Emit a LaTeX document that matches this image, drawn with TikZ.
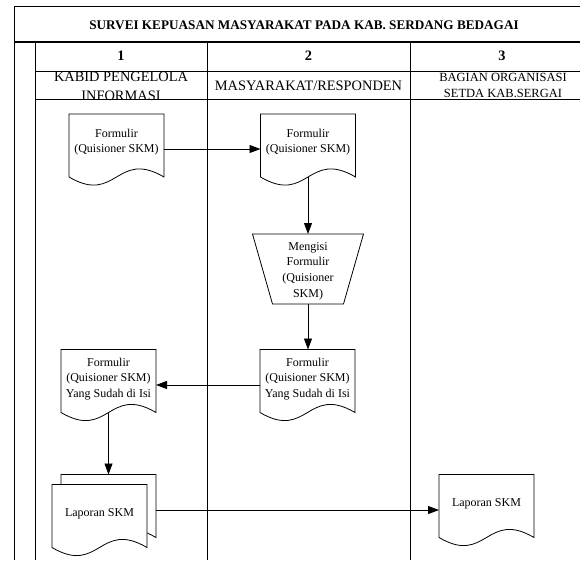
\documentclass[tikz,border=0pt]{standalone}
\usepackage{fontspec}
\setmainfont{Liberation Serif}
\usetikzlibrary{arrows.meta,calc}
\newcommand{\docpath}[1]{\draw[docline] (#1.north west) -- (#1.north east) -- (#1.south east) .. controls ([yshift=28pt]#1.south) and ([yshift=-28pt]#1.south) .. (#1.south west) -- cycle;}
\begin{document}
\begin{tikzpicture}[x={(1pt,0pt)},y={(0pt,-1pt)},
  frame/.style={line width=0.9pt},
  docbody/.style={draw=none,inner sep=0pt,outer sep=0pt,minimum width=95pt,minimum height=63pt},
  docline/.style={line width=0.8pt,fill=white},
  txt/.style={font=\fontsize{12}{15.6}\selectfont,align=center,inner sep=0pt},
  hdr/.style={font=\fontsize{14.4}{17}\selectfont,inner sep=0pt,anchor=base},
  hdrs/.style={font=\fontsize{12.5}{16}\selectfont,inner sep=0pt,anchor=base},
  arr/.style={line width=0.8pt,-{Triangle[length=11pt,width=8pt]}}]
\useasboundingbox (0,0) rectangle (580,560);
% header texts
\node[anchor=base,inner sep=0pt,font=\fontsize{13.2}{15}\selectfont\bfseries] (title) at (304,29.3) {SURVEI KEPUASAN MASYARAKAT PADA KAB. SERDANG BEDAGAI};
\node[hdr,font=\fontsize{14.4}{17}\selectfont\bfseries] (n1) at (121,60) {1};
\node[hdr,font=\fontsize{14.4}{17}\selectfont\bfseries] (n2) at (308.5,60) {2};
\node[hdr,font=\fontsize{14.4}{17}\selectfont\bfseries] (n3) at (502,60) {3};
\node[hdr] (h1a) at (121,81.7) {KABID PENGELOLA};
\node[hdr] (h1b) at (121,100) {INFORMASI};
\node[hdr] (h2) at (308.5,90.7) {MASYARAKAT/RESPONDEN};
\node[hdrs] (h3a) at (503,81.7) {BAGIAN ORGANISASI};
\node[hdrs] (h3b) at (503,97.7) {SETDA KAB.SERGAI};
% frame
\draw[frame] (14,560) -- (14,6) -- (580,6);
\draw[line width=1.6pt] (14,42) -- (580,42);
\draw[frame] (35,42) -- (35,560);
\draw[frame] (35,71) -- (580,71);
\draw[frame] (35,99) -- (580,99);
\draw[frame] (207,42) -- (207,560);
\draw[frame] (410,42) -- (410,560);
% documents
\node[docbody] (d1) at (116.5,145.5) {};
\node[docbody] (d2) at (308,145.5) {};
\node[docbody] (d3) at (307.5,381) {};
\node[docbody] (d4) at (108.5,381) {};
\node[docbody] (mb) at (108.5,506) {};
\node[docbody] (m) at (99.5,516) {};
\node[docbody] (d5) at (486.5,506) {};
\node[draw=none,inner sep=0pt,outer sep=0pt,minimum width=111pt,minimum height=70pt] (t) at (308,269) {};
\docpath{d1}
\docpath{d2}
\docpath{d3}
\docpath{d4}
\docpath{mb}
\docpath{m}
\docpath{d5}
\draw[docline] (t.north west) -- (t.north east) -- ([xshift=-20pt]t.south east) -- ([xshift=20pt]t.south west) -- cycle;
% texts
\node[txt] (d1t) at ([yshift=3.5pt]d1.center) {Formulir\\(Quisioner SKM)};
\node[txt] (d2t) at ([yshift=3.5pt]d2.center) {Formulir\\(Quisioner SKM)};
\node[txt] (tt) at ([yshift=-2pt]t.center) {Mengisi\\Formulir\\(Quisioner\\SKM)};
\node[txt] (d3t) at ([yshift=2pt]d3.center) {Formulir\\(Quisioner SKM)\\Yang Sudah di Isi};
\node[txt] (d4t) at ([yshift=2pt]d4.center) {Formulir\\(Quisioner SKM)\\Yang Sudah di Isi};
\node[txt] (mt) at ([yshift=2.7pt]m.center) {Laporan SKM};
\node[txt] (d5t) at ([yshift=2.2pt]d5.center) {Laporan SKM};
% connectors
\draw[arr] ([yshift=-3.5pt]d1.east) -- ([yshift=-3.5pt]d2.west);
\draw[arr] (d2.south) -- (t.north);
\draw[arr] (t.south) -- (t.south |- d3.north);
\draw[arr] ([yshift=-4pt]d3.west) -- ([yshift=-4pt]d4.east);
\draw[arr] (d4.south) -- (mb.north);
\draw[arr] ([yshift=-4pt]mb.east) -- ([yshift=-4pt]d5.west);
\end{tikzpicture}
\end{document}
